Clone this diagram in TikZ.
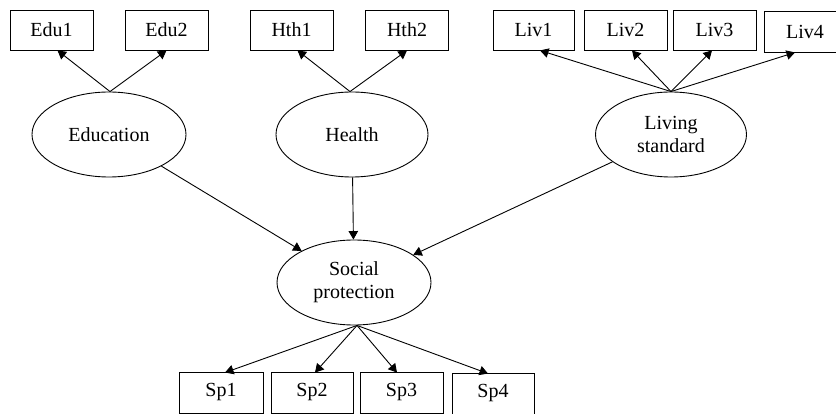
\documentclass[tikz,border=0pt]{standalone}
\usepackage{fontspec}
\setmainfont{Liberation Serif}
\usetikzlibrary{arrows.meta,shapes.geometric}
\begin{document}
\begin{tikzpicture}[x=1pt,y=-1pt,
  box/.style={draw,line width=0.9pt,minimum height=40pt,minimum width=83pt,inner sep=0pt,font=\fontsize{20}{23}\selectfont},
  lat/.style={draw,ellipse,line width=0.9pt,minimum width=154pt,minimum height=85pt,inner sep=0pt,align=center,font=\fontsize{20}{23}\selectfont},
  arr/.style={-{Triangle[length=8.5pt,width=9.5pt]},line width=0.9pt}]
\useasboundingbox (0,0) rectangle (836,414);
\node[box] (e1) at (51.5,30) {Edu1};
\node[box] (e2) at (166.5,30) {Edu2};
\node[box] (h1) at (291.5,30) {Hth1};
\node[box] (h2) at (407,30) {Hth2};
\node[box,minimum width=81pt] (l1) at (533.5,30) {Liv1};
\node[box] (l2) at (625.5,30) {Liv2};
\node[box] (l3) at (714.5,30) {Liv3};
\node[box,minimum width=82pt,minimum height=41pt] (l4) at (805,31.5) {Liv4};
\node[box,minimum height=41pt,minimum width=84pt] (s1) at (221,392.5) {Sp1};
\node[box,minimum height=41pt,minimum width=82pt] (s2) at (312,392.5) {Sp2};
\node[box,minimum height=41pt] (s3) at (401.5,392.5) {Sp3};
\node[box,minimum height=41pt,minimum width=82pt] (s4) at (493,393.5) {Sp4};
\node[lat] (edu) at (109,134.5) {Education};
\node[lat,minimum width=152pt] (hth) at (352,134.5) {Health};
\node[lat,minimum width=151pt] (liv) at (671,134.5) {Living\\standard};
\node[lat] (sp) at (354,282.5) {Social\\protection};
\draw[arr] ([xshift=1pt]edu.north) -- ([xshift=6pt]e1.south);
\draw[arr] ([xshift=1pt]edu.north) -- (e2.south);
\draw[arr] ([xshift=-2pt]hth.north) -- ([xshift=6pt]h1.south);
\draw[arr] ([xshift=-2pt]hth.north) -- (h2.south);
\draw[arr] (liv.north) -- ([xshift=6.5pt]l1.south);
\draw[arr] (liv.north) -- ([xshift=6.5pt]l2.south);
\draw[arr] (liv.north) -- ([xshift=-2.5pt]l3.south);
\draw[arr] (liv.north) -- ([xshift=-10pt]l4.south);
\draw[arr] (edu) -- (sp);
\draw[arr] (hth) -- (sp);
\draw[arr] (liv) -- (sp);
\draw[arr] ([xshift=3pt]sp.south) -- ([xshift=4pt,yshift=-1pt]s1.north);
\draw[arr] ([xshift=3pt]sp.south) -- ([xshift=3pt,yshift=-1pt]s2.north);
\draw[arr] ([xshift=3pt]sp.south) -- ([xshift=-4.5pt,yshift=-1pt]s3.north);
\draw[arr] ([xshift=3pt]sp.south) -- ([xshift=-5pt,yshift=-1pt]s4.north);
\end{tikzpicture}
\end{document}
